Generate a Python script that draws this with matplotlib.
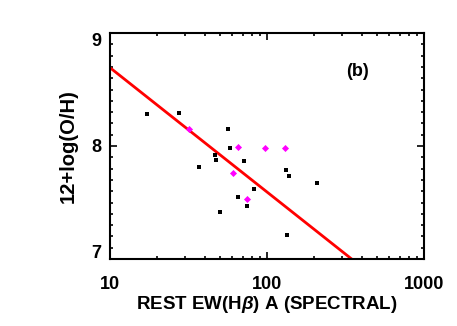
import numpy as np
import matplotlib
matplotlib.use("Agg")
import matplotlib.pyplot as plt
import matplotlib.transforms as mtransforms
from matplotlib.ticker import FixedLocator, MultipleLocator, LogLocator, NullFormatter

# Black squares: rest EW(Hbeta) and 12+log(O/H)
ew_black = [17.1, 27.5, 56.4, 58.4, 46.7, 47.5, 37.1, 71.4, 50.0, 65.3, 74.6, 83.0, 132, 138.7, 208, 134]
oh_black = [8.28, 8.29, 8.15, 7.98, 7.92, 7.88, 7.81, 7.87, 7.42, 7.55, 7.47, 7.62, 7.79, 7.735, 7.67, 7.215]

# Magenta diamonds
ew_mag = [31.8, 65.3, 97.0, 129.6, 61.1, 74.6]
oh_mag = [8.15, 7.99, 7.985, 7.98, 7.76, 7.535]

# Fit line: y = intercept + slope * log10(EW)
fit_intercept = 9.793
fit_slope = -1.10

xticks = [10, 100, 1000]
xticklabels = ["10", "100", "1000"]
yticks = [7, 8, 9]
yticklabels = ["7", "8", "9"]

plt.rcParams['font.family'] = ['Liberation Sans', 'DejaVu Sans']
plt.rcParams['font.weight'] = 'bold'
plt.rcParams['mathtext.fontset'] = 'custom'
plt.rcParams['mathtext.it'] = 'Liberation Sans:italic:bold'
plt.rcParams['mathtext.rm'] = 'Liberation Sans:bold'

fig = plt.figure(figsize=(4.57, 3.26), dpi=100)
ax = fig.add_axes([110/457, 1-259/326, 314/457, 226/326])

xf = np.logspace(1, 3, 200)
ax.plot(xf, fit_intercept + fit_slope*np.log10(xf), color='red', lw=2.0, zorder=2)
ax.scatter(ew_black, oh_black, marker='s', s=11, color='black', linewidths=0, zorder=3)
ax.scatter(ew_mag, oh_mag, marker='D', s=13, color='#ff00ff', linewidths=0, zorder=3)

ax.set_xscale('log')
ax.set_xlim(10, 1000)
ax.set_ylim(7, 9)
ax.xaxis.set_major_locator(FixedLocator(xticks))
ax.set_xticklabels(xticklabels, fontweight='bold')
ax.xaxis.set_minor_locator(LogLocator(base=10, subs=np.arange(2, 10)))
ax.xaxis.set_minor_formatter(NullFormatter())
ax.yaxis.set_major_locator(FixedLocator(yticks))
ax.set_yticklabels(yticklabels, fontweight='bold')
ax.yaxis.set_minor_locator(MultipleLocator(0.1))

ax.tick_params(which='both', direction='in', top=True, right=True, width=1.2, labelsize=13)
ax.tick_params(which='major', length=5)
ax.tick_params(which='minor', length=2.2)
ax.tick_params(axis='x', which='major', pad=12)
ax.tick_params(axis='y', which='major', pad=6)
for sp in ax.spines.values():
    sp.set_linewidth(1.5)

# shift edge y tick labels inward like the original
ylabs = ax.get_yticklabels()
ylabs[0].set_transform(ylabs[0].get_transform() + mtransforms.ScaledTranslation(0, 7/100, fig.dpi_scale_trans))
ylabs[2].set_transform(ylabs[2].get_transform() + mtransforms.ScaledTranslation(0, -7/100, fig.dpi_scale_trans))

ax.set_xlabel(r"REST EW(H$\beta$) A (SPECTRAL)", fontsize=13.5, fontweight='bold', labelpad=1)
ax.set_ylabel("12+log(O/H)", fontsize=14.5, fontweight='bold', labelpad=10)
ax.text(375, 8.66, "(b)", fontsize=13, fontweight='bold', ha='center', va='center')

fig.savefig("out.png", dpi=100)
